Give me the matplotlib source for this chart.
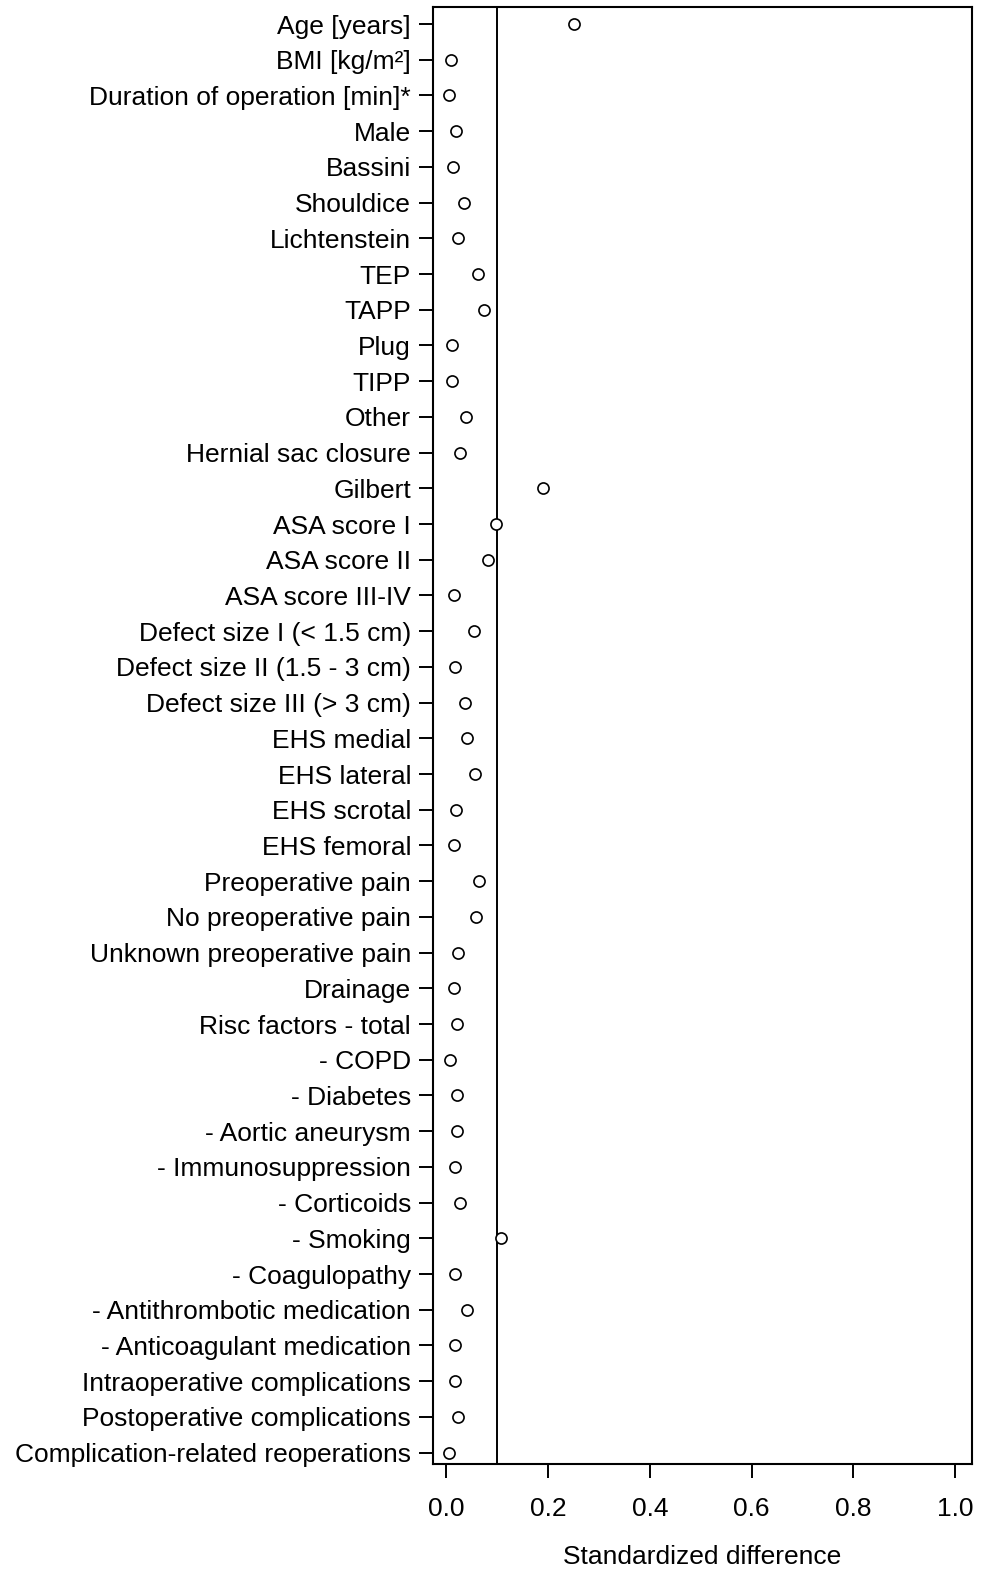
import matplotlib
matplotlib.use("Agg")
import matplotlib.pyplot as plt
import numpy as np

plt.rcParams['font.family'] = ['Liberation Sans', 'DejaVu Sans']

# covariates, top to bottom
labels = [
    "Age [years]", "BMI [kg/m²]", "Duration of operation [min]*", "Male",
    "Bassini", "Shouldice", "Lichtenstein", "TEP", "TAPP", "Plug", "TIPP",
    "Other", "Hernial sac closure", "Gilbert", "ASA score I", "ASA score II",
    "ASA score III-IV", "Defect size I (< 1.5 cm)", "Defect size II (1.5 - 3 cm)",
    "Defect size III (> 3 cm)", "EHS medial", "EHS lateral", "EHS scrotal",
    "EHS femoral", "Preoperative pain", "No preoperative pain",
    "Unknown preoperative pain", "Drainage", "Risc factors - total", "- COPD",
    "- Diabetes", "- Aortic aneurysm", "- Immunosuppression", "- Corticoids",
    "- Smoking", "- Coagulopathy", "- Antithrombotic medication",
    "- Anticoagulant medication", "Intraoperative complications",
    "Postoperative complications", "Complication-related reoperations",
]

std_diff = [
    0.250, 0.008, 0.004, 0.018, 0.013, 0.035, 0.022, 0.061, 0.073, 0.010, 0.010,
    0.039, 0.026, 0.189, 0.098, 0.081, 0.014, 0.055, 0.016, 0.037, 0.041, 0.057,
    0.018, 0.014, 0.063, 0.059, 0.022, 0.014, 0.020, 0.006, 0.020, 0.020, 0.016,
    0.026, 0.108, 0.016, 0.041, 0.016, 0.016, 0.022, 0.004,
]

threshold = 0.1
xticks = [0.0, 0.2, 0.4, 0.6, 0.8, 1.0]

n = len(labels)
ypos = np.arange(n, 0, -1)

fig = plt.figure(figsize=(9.89, 15.72), dpi=100)
ax = fig.add_axes([0.4381, 0.0687, 0.5444, 0.9267])

ax.plot(std_diff, ypos, linestyle='none', marker='o', markersize=8,
        markerfacecolor='white', markeredgecolor='black', markeredgewidth=1.2)
ax.axvline(threshold, color='black', linewidth=1.4, zorder=0)

ax.set_xlim(-0.026, 1.033)
ax.set_ylim(0.68, n + 0.47)
ax.set_yticks(ypos)
ax.set_yticklabels(labels)
ax.set_xticks(xticks)
ax.set_xticklabels([f"{v:.1f}" for v in xticks])

for s in ax.spines.values():
    s.set_linewidth(1.5)
ax.tick_params(axis='both', direction='out', length=10, width=1.4,
               labelsize=19, colors='black')
ax.tick_params(axis='y', pad=6)
ax.tick_params(axis='x', pad=14)
ax.set_xlabel("Standardized difference", fontsize=19, labelpad=17)

fig.savefig("out.png", dpi=100)
